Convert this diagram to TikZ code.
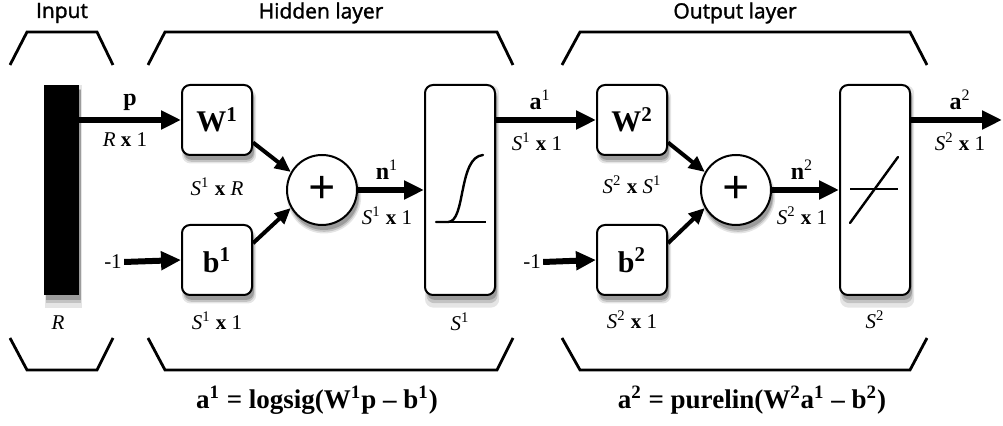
\documentclass[tikz,border=0pt]{standalone}
\usepackage{fontspec}
\setmainfont{Liberation Serif}
\newfontfamily\layerfont[FakeBold=1.6]{Open Sans}
\usetikzlibrary{arrows.meta,shadows}
\newcommand{\dimsz}[2]{\textit{#1}\textsuperscript{#2}}
\tikzset{
  nnshadow/.style={
    drop shadow={shadow xshift=1pt, shadow yshift=-3pt, shadow scale=1.06,
                 fill=black, opacity=0.10},
    drop shadow={shadow xshift=1pt, shadow yshift=-3pt, shadow scale=1.02,
                 fill=black, opacity=0.15},
    drop shadow={shadow xshift=1pt, shadow yshift=-2.5pt,
                 fill=black, opacity=0.2}},
  nnbox/.style={rectangle, rounded corners=4pt, draw=black, fill=white,
                line width=1pt, minimum width=35pt, minimum height=35pt,
                inner sep=0pt, font=\fontsize{15}{15}\selectfont\bfseries, nnshadow},
  nnsum/.style={circle, draw=black, fill=white, line width=1pt,
                minimum size=35pt, inner sep=0pt,
                font=\fontsize{24}{24}\selectfont\bfseries, nnshadow},
  nnfunc/.style={rectangle, rounded corners=4pt, draw=black, fill=white,
                 line width=1pt, minimum width=35pt, minimum height=105pt,
                 inner sep=0pt, nnshadow},
  nnbar/.style={rectangle, fill=black, minimum width=17.5pt,
                minimum height=105pt, inner sep=0pt, nnshadow},
  bracket/.style={line width=1.4pt, line join=miter},
  layertitle/.style={font=\layerfont\fontsize{10.5}{10.5}\selectfont},
  sig/.style={font=\fontsize{12}{12}\selectfont\bfseries, inner sep=1pt},
  dimlbl/.style={font=\fontsize{10.5}{10.5}\selectfont, inner sep=1pt},
  eqn/.style={font=\fontsize{13.5}{13.5}\selectfont\bfseries},
  flow/.style={line width=3pt, -{Triangle[length=10pt, width=9pt]}},
  flowthin/.style={line width=2pt, -{Triangle[length=8pt, width=7pt]}},
  curve/.style={line width=1.2pt, line cap=round},
}
\begin{document}
\begin{tikzpicture}[x=0.5pt, y=-0.5pt]
\useasboundingbox (0,0) rectangle (1003,426);
% layer titles and brackets
\node[layertitle] (tin)  at (62,13)  {Input};
\node[layertitle] (thid) at (321,13) {Hidden layer};
\node[layertitle] (tout) at (735,13) {Output layer};
\draw[bracket] (10,65) -- (27,32) -- (97,32) -- (113,65);
\draw[bracket] (148,65) -- (165,32) -- (497,32) -- (513,65);
\draw[bracket] (562,65) -- (580,32) -- (910,32) -- (927,65);
\draw[bracket] (10,338) -- (27,370) -- (97,370) -- (113,338);
\draw[bracket] (148,338) -- (165,370) -- (497,370) -- (513,338);
\draw[bracket] (562,338) -- (580,370) -- (910,370) -- (927,338);
% blocks
\node[nnbar]  (bar)  at (61.5,190) {};
\node[nnbox]  (W1)   at (217,120) {W\textsuperscript{1}};
\node[nnbox]  (b1)   at (217,260) {b\textsuperscript{1}};
\node[nnsum]  (sum1) at (322,190) {+};
\node[nnfunc] (f1)   at (460,190) {};
\node[nnbox]  (W2)   at (632,120) {W\textsuperscript{2}};
\node[nnbox]  (b2)   at (632,260) {b\textsuperscript{2}};
\node[nnsum]  (sum2) at (736,190) {+};
\node[nnfunc] (f2)   at (875,190) {};
\node[dimlbl] (m1) at (113,262) {-1};
\node[dimlbl] (m2) at (532,262) {-1};
\coordinate (aout) at (1002,120);
% transfer functions
\draw[line width=0.9pt] (436,222) -- (486,222);
\draw[curve] (436,222) -- (448,222) .. controls (466,222) and (458,157) .. (483,155);
\draw[line width=0.9pt] (850,189) -- (898,189);
\draw[curve] (850,223) -- (898,157);
% connectors
\draw[flow] (bar.east |- W1.west) -- (W1.west);
\draw[flowthin] (W1.-32) -- (sum1.150);
\draw[flowthin] (b1.25) -- (sum1.210);
\draw[flow] (m1.east) -- (b1.west);
\draw[flow] (sum1.east) -- (f1.west);
\draw[flow] (f1.east |- W2.west) -- (W2.west);
\draw[flowthin] (W2.-32) -- (sum2.150);
\draw[flowthin] (b2.25) -- (sum2.210);
\draw[flow] (m2.east) -- (b2.west);
\draw[flow] (sum2.east) -- (f2.west);
\draw[flow] (f2.east |- W2.east) -- (aout);
% labels
\node[sig]    (lp)   at (130,102) {p};
\node[dimlbl] (lpd)  at (125,140) {\textit{R} \textbf{x} 1};
\node[dimlbl] (lw1)  at (217,187) {\dimsz{S}{1} \textbf{x} \textit{R}};
\node[dimlbl] (lb1)  at (217,321) {\dimsz{S}{1} \textbf{x} 1};
\node[dimlbl] (lR)   at (58,323)  {\textit{R}};
\node[sig]    (ln1)  at (387,170) {n\textsuperscript{\mdseries 1}};
\node[dimlbl] (ln1d) at (387,216) {\dimsz{S}{1} \textbf{x} 1};
\node[dimlbl] (lS1)  at (460,322) {\dimsz{S}{1}};
\node[sig]    (la1)  at (540,100) {a\textsuperscript{\mdseries 1}};
\node[dimlbl] (la1d) at (537,142) {\dimsz{S}{1} \textbf{x} 1};
\node[dimlbl] (lw2)  at (632,185) {\dimsz{S}{2} \textbf{x} \dimsz{S}{1}};
\node[dimlbl] (lb2)  at (632,320) {\dimsz{S}{2} \textbf{x} 1};
\node[sig]    (ln2)  at (802,170) {n\textsuperscript{\mdseries 2}};
\node[dimlbl] (ln2d) at (802,216) {\dimsz{S}{2} \textbf{x} 1};
\node[dimlbl] (lS2)  at (875,320) {\dimsz{S}{2}};
\node[sig]    (la2)  at (960,100) {a\textsuperscript{\mdseries 2}};
\node[dimlbl] (la2d) at (960,142) {\dimsz{S}{2} \textbf{x} 1};
\node[eqn] (eq1) at (317,400) {a\textsuperscript{1} = logsig(W\textsuperscript{1}p -- b\textsuperscript{1})};
\node[eqn] (eq2) at (752,400) {a\textsuperscript{2} = purelin(W\textsuperscript{2}a\textsuperscript{1} -- b\textsuperscript{2})};
\end{tikzpicture}
\end{document}
